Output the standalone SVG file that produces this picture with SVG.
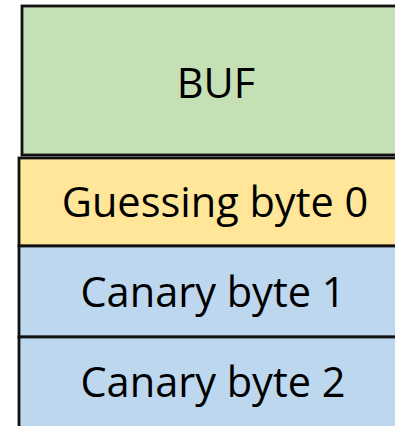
<svg xmlns="http://www.w3.org/2000/svg" width="395" height="426" viewBox="0 0 395 426">
<style>
.box{stroke:#111;stroke-width:2.8}
.lbl{font-family:"Open Sans","Liberation Sans",sans-serif;font-size:41.5px;fill:#000;text-anchor:middle}
</style>
<rect width="395" height="426" fill="#fff"/>
<g id="buf"><rect class="box" x="22" y="6" width="400" height="149" fill="#C5E0B4"/><text class="lbl" x="216" y="98">BUF</text></g>
<g id="guess"><rect class="box" x="19" y="158" width="400" height="88" fill="#FFE699"/><text class="lbl" x="215" y="217">Guessing byte 0</text></g>
<g id="canary1"><rect class="box" x="19" y="246" width="400" height="91" fill="#BDD7EE"/><text class="lbl" x="213" y="307">Canary byte 1</text></g>
<g id="canary2"><rect class="box" x="19" y="337" width="400" height="110" fill="#BDD7EE"/><text class="lbl" x="213" y="397">Canary byte 2</text></g>
<g id="connectors"/>
</svg>
